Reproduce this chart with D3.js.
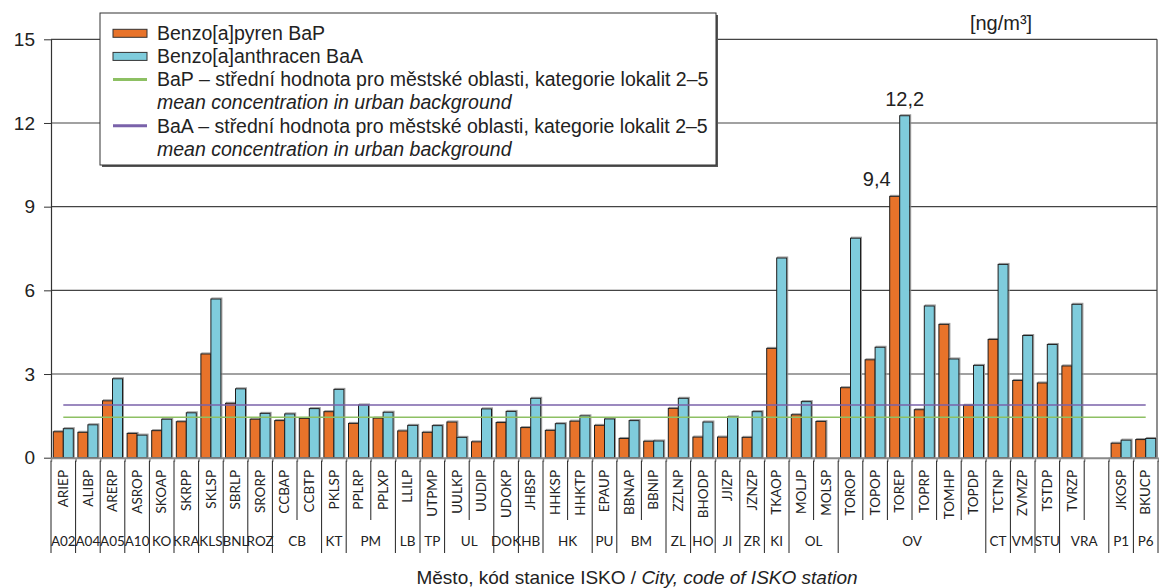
<!DOCTYPE html>
<html>
<head>
<meta charset="utf-8">
<script src="https://cdn.jsdelivr.net/npm/d3@7"></script>
<style>
  body { margin: 0; background: #fff; }
  svg text { font-family: "Liberation Sans", Arial, sans-serif; fill: #222; }
  .cat text { font-family: Lato, "Open Sans", sans-serif; font-size: 13.5px; }
</style>
</head>
<body>
<svg id="chart"></svg>
<script>
// station codes, "" is an empty slot
const stations = ['ARIEP','ALIBP','ARERP','ASROP','SKOAP','SKRPP','SKLSP','SBRLP','SRORP','CCBAP',
  'CCBTP','PKLSP','PPLRP','PPLXP','LLILP','UTPMP','UULKP','UUDIP','UDOKP','JHBSP',
  'HHKSP','HHKTP','EPAUP','BBNAP','BBNIP','ZZLNP','BHODP','JJIZP','JZNZP','TKAOP',
  'MOLJP','MOLSP','TOROP','TOPOP','TOREP','TOPRP','TOMHP','TOPDP','TCTNP','ZVMZP',
  'TSTDP','TVRZP','','JKOSP','BKUCP'];

const bapValues = [0.93,0.91,2.04,0.87,0.97,1.29,3.72,1.95,1.38,1.33,
  1.41,1.65,1.23,1.42,0.96,0.91,1.28,0.57,1.26,1.08,
  0.98,1.31,1.16,0.69,0.59,1.77,0.74,0.74,0.73,3.92,
  1.54,1.30,2.51,3.51,9.37,1.72,4.78,1.88,4.24,2.77,
  2.68,3.29,null,0.52,0.65];

const baaValues = [1.04,1.18,2.83,0.81,1.38,1.61,5.69,2.47,1.59,1.57,
  1.76,2.45,1.89,1.63,1.16,1.15,0.73,1.75,1.66,2.13,
  1.22,1.50,1.39,1.33,0.60,2.13,1.28,1.46,1.65,7.16,
  2.01,null,7.87,3.96,12.26,5.44,3.54,3.31,6.93,4.38,
  4.06,5.50,null,0.63,0.69];

const groupNames = ['A02','A04','A05','A10','KO','KRA','KLS','BNL','ROZ','CB','KT','PM','LB','TP','UL',
  'DOK','HB','HK','PU','BM','ZL','HO','JI','ZR','KI','OL','OV','CT','VM','STU','VRA','P1','P6'];
const groupSizes = [1,1,1,1,1,1,1,1,1,2,1,2,1,1,2,
  1,1,2,1,2,1,1,1,1,1,2,6,1,1,1,2,1,1];

const yTicks = [0,3,6,9,12,15];
const bapMean = 1.45;
const baaMean = 1.89;

const valueLabels = [
  {station:'TOREP', series:'bap', text:'9,4', dx:-18, dy:-17},
  {station:'TOREP', series:'baa', text:'12,2', dx:0, dy:-17}
];

const legendItems = [
  {type:'rect', color:'#E8732A', text:'Benzo[a]pyren BaP'},
  {type:'rect', color:'#7FCCDC', text:'Benzo[a]anthracen BaA'},
  {type:'line', color:'#8DC063', text:'BaP – střední hodnota pro městské oblasti, kategorie lokalit 2–5'},
  {type:'none', text:'mean concentration in urban background', italic:true},
  {type:'line', color:'#7A62AA', text:'BaA – střední hodnota pro městské oblasti, kategorie lokalit 2–5'},
  {type:'none', text:'mean concentration in urban background', italic:true}
];

const svgWidth = 1159, svgHeight = 588;
const plotLeft = 51, plotRight = 1157, plotTop = 39.3, plotBottom = 457.7;
const colors = {bap:'#E8732A', baa:'#7FCCDC'};

const svg = d3.select('#chart').attr('width', svgWidth).attr('height', svgHeight);

const idx = d3.range(stations.length);
const xScale = d3.scaleBand().domain(idx).range([plotLeft, plotRight + 1]);
const bw = xScale.bandwidth();
const subScale = d3.scaleBand().domain(['bap','baa']).range([2.3, bw - 2.3]);
const yScale = d3.scaleLinear().domain([0, 15]).range([plotBottom, plotTop]);
const edgeScale = d3.scaleLinear().domain([0, stations.length]).range([plotLeft, plotRight + 1]);

// gridlines
svg.append('g')
  .selectAll('line')
  .data(yTicks.filter(d => d > 0))
  .enter()
  .append('line')
  .attr('x1', plotLeft).attr('x2', plotRight)
  .attr('y1', d => yScale(d)).attr('y2', d => yScale(d))
  .attr('stroke', '#444').attr('stroke-width', 1.2);

// right border
svg.append('line')
  .attr('x1', plotRight).attr('x2', plotRight).attr('y1', plotTop).attr('y2', plotBottom)
  .attr('stroke', '#444').attr('stroke-width', 1.2);

// bars (with a faint grey shadow like the original)
const rows = idx.map(i => ({i, bap: bapValues[i], baa: baaValues[i]}));
['bap','baa'].forEach(s => {
  const g = svg.append('g');
  const data = rows.filter(d => d[s] != null);
  g.selectAll('rect.sh')
    .data(data)
    .enter()
    .append('rect')
    .attr('class', 'sh')
    .attr('x', d => xScale(d.i) + subScale(s) + 1)
    .attr('y', d => yScale(d[s]) - 1)
    .attr('width', subScale.bandwidth())
    .attr('height', d => plotBottom - yScale(d[s]) + 1)
    .attr('fill', 'none')
    .attr('stroke', '#9a9a9a')
    .attr('stroke-width', 1);
  g.selectAll('rect.bar')
    .data(data)
    .enter()
    .append('rect')
    .attr('class', 'bar')
    .attr('x', d => xScale(d.i) + subScale(s))
    .attr('y', d => yScale(d[s]))
    .attr('width', subScale.bandwidth())
    .attr('height', d => plotBottom - yScale(d[s]))
    .attr('fill', colors[s])
    .attr('stroke', '#1e1e1e')
    .attr('stroke-width', 1);
});

// mean lines
const xFirst = xScale(0) + bw / 2, xLast = xScale(stations.length - 1) + bw / 2;
[[bapMean, '#8DC063'], [baaMean, '#7A62AA']].forEach(([v, c]) => {
  svg.append('line')
    .attr('x1', xFirst).attr('x2', xLast)
    .attr('y1', yScale(v)).attr('y2', yScale(v))
    .attr('stroke', c).attr('stroke-width', 1.6);
});

// y axis
const yAxis = d3.axisLeft(yScale).tickValues(yTicks).tickSize(7).tickSizeOuter(0).tickPadding(9);
const yg = svg.append('g').attr('transform', 'translate(' + plotLeft + ',0)').call(yAxis);
yg.selectAll('text').style('font-size', '19px').attr('fill', '#222');
yg.selectAll('line').attr('stroke', '#333');
yg.select('.domain').attr('stroke', '#333').attr('stroke-width', 1.2);

// x axis baseline + small ticks at slot edges
const xAxis = d3.axisBottom(edgeScale).tickValues(d3.range(stations.length + 1))
  .tickSize(4).tickSizeOuter(0).tickFormat('');
const xg = svg.append('g').attr('transform', 'translate(0,' + plotBottom + ')').call(xAxis);
xg.select('.domain').attr('stroke', '#8a8a8a').attr('stroke-width', 2);
xg.selectAll('line').attr('stroke', '#8a8a8a').attr('stroke-width', 1.5);

// category table
const groupEdges = [0];
groupSizes.forEach(s => groupEdges.push(groupEdges[groupEdges.length - 1] + s));
const cat = svg.append('g').attr('class', 'cat');

cat.selectAll('line')
  .data(d3.range(stations.length + 1))
  .enter()
  .append('line')
  .attr('x1', d => edgeScale(d)).attr('x2', d => edgeScale(d))
  .attr('y1', plotBottom + 3)
  .attr('y2', d => groupEdges.includes(d) ? 553 : 520)
  .attr('stroke', '#222').attr('stroke-width', 1);

cat.selectAll('text.st')
  .data(idx.filter(i => stations[i] !== ''))
  .enter()
  .append('text')
  .attr('class', 'st')
  .attr('transform', i => 'translate(' + (xScale(i) + bw / 2) + ',470) rotate(-90)')
  .attr('text-anchor', 'end')
  .attr('dy', '0.35em')
  .text(i => stations[i]);

cat.selectAll('text.gr')
  .data(groupNames)
  .enter()
  .append('text')
  .attr('class', 'gr')
  .attr('x', (d, k) => (edgeScale(groupEdges[k]) + edgeScale(groupEdges[k + 1])) / 2)
  .attr('y', 541)
  .attr('dy', '0.35em')
  .attr('text-anchor', 'middle')
  .text(d => d);

// value labels
valueLabels.forEach(l => {
  const i = stations.indexOf(l.station);
  const v = l.series === 'bap' ? bapValues[i] : baaValues[i];
  svg.append('text')
    .attr('x', xScale(i) + subScale(l.series) + subScale.bandwidth() / 2 + l.dx)
    .attr('y', yScale(v) + l.dy)
    .attr('dy', '0.35em')
    .attr('text-anchor', 'middle')
    .style('font-size', '20px')
    .text(l.text);
});

// unit
svg.append('text')
  .attr('x', 1001).attr('y', 23).attr('dy', '0.35em')
  .attr('text-anchor', 'middle')
  .style('font-size', '20px')
  .text('[ng/m³]');

// axis title
const title = svg.append('text')
  .attr('x', 637).attr('y', 577).attr('dy', '0.35em')
  .attr('text-anchor', 'middle')
  .style('font-size', '19px');
title.append('tspan').text('Město, kód stanice ISKO / ');
title.append('tspan').style('font-style', 'italic').text('City, code of ISKO station');

// legend
const lg = svg.append('g').attr('transform', 'translate(100,13)');
lg.append('rect').attr('x', 2).attr('y', 2).attr('width', 616).attr('height', 152).attr('fill', '#555');
lg.append('rect').attr('width', 616).attr('height', 152).attr('fill', '#fff').attr('stroke', '#333');
legendItems.forEach((d, k) => {
  const cy = 20.3 + k * 23.1;
  if (d.type === 'rect') {
    lg.append('rect').attr('x', 13).attr('y', cy - 4).attr('width', 34).attr('height', 8)
      .attr('fill', d.color).attr('stroke', '#333');
  } else if (d.type === 'line') {
    lg.append('line').attr('x1', 13).attr('x2', 47).attr('y1', cy).attr('y2', cy)
      .attr('stroke', d.color).attr('stroke-width', 3);
  }
  lg.append('text').attr('x', 57).attr('y', cy).attr('dy', '0.35em')
    .style('font-size', '19.5px')
    .style('font-style', d.italic ? 'italic' : 'normal')
    .text(d.text);
});
</script>
</body>
</html>
